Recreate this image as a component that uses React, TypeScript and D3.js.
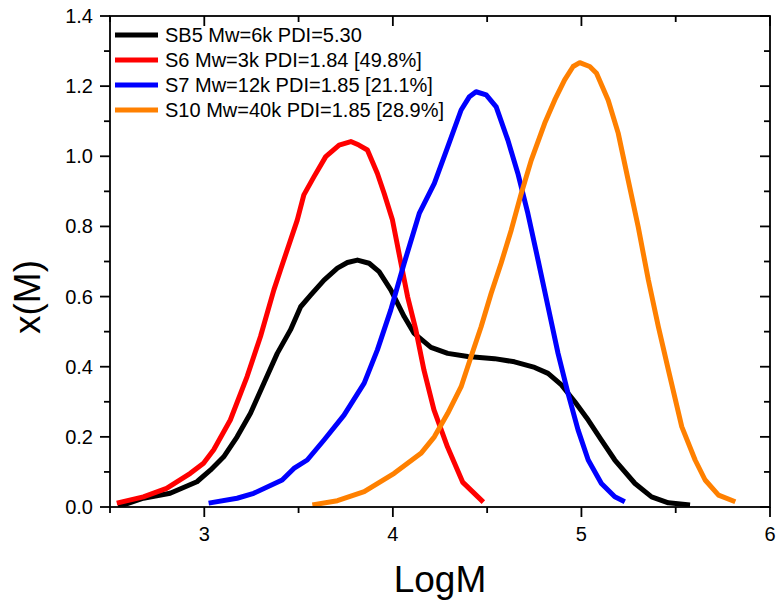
import React from "react";
import * as d3 from "d3";

const xTicksMajor = [3, 4, 5, 6];
const xTicksMinor = [2.5, 3.5, 4.5, 5.5];
const yTicksMajor = [0, 0.2, 0.4, 0.6, 0.8, 1.0, 1.2, 1.4];
const yTicksMinor = [0.1, 0.3, 0.5, 0.7, 0.9, 1.1, 1.3];

const seriesNames = [
  "SB5 Mw=6k PDI=5.30",
  "S6 Mw=3k PDI=1.84 [49.8%]",
  "S7 Mw=12k PDI=1.85 [21.1%]",
  "S10 Mw=40k PDI=1.85 [28.9%]",
];
const seriesColors = ["#000000", "#ff0000", "#0000ff", "#ff8000"];

const sb5X = [2.544, 2.677, 2.819, 2.961, 3.032, 3.103, 3.174, 3.245, 3.316, 3.387, 3.457, 3.511, 3.564, 3.635, 3.706, 3.759, 3.812, 3.874, 3.927, 3.989, 4.06, 4.113, 4.202, 4.291, 4.397, 4.539, 4.645, 4.752, 4.823, 4.894, 4.965, 5.036, 5.106, 5.177, 5.284, 5.372, 5.461, 5.576];
const sb5Y = [0.001, 0.025, 0.039, 0.072, 0.105, 0.143, 0.2, 0.267, 0.353, 0.438, 0.505, 0.571, 0.604, 0.647, 0.681, 0.697, 0.704, 0.695, 0.671, 0.619, 0.543, 0.495, 0.455, 0.438, 0.429, 0.423, 0.414, 0.398, 0.381, 0.348, 0.3, 0.248, 0.191, 0.134, 0.067, 0.029, 0.012, 0.006];

const s6X = [2.536, 2.677, 2.8, 2.926, 2.996, 3.05, 3.138, 3.227, 3.298, 3.369, 3.404, 3.493, 3.528, 3.582, 3.644, 3.715, 3.777, 3.82, 3.865, 3.918, 3.954, 3.998, 4.043, 4.078, 4.122, 4.165, 4.218, 4.29, 4.37, 4.48];
const s6Y = [0.011, 0.029, 0.053, 0.096, 0.125, 0.163, 0.248, 0.372, 0.486, 0.619, 0.676, 0.818, 0.89, 0.942, 0.999, 1.032, 1.042, 1.032, 1.018, 0.951, 0.894, 0.818, 0.695, 0.6, 0.505, 0.39, 0.277, 0.171, 0.071, 0.014];

const s7X = [3.023, 3.174, 3.262, 3.413, 3.475, 3.546, 3.635, 3.741, 3.848, 3.918, 3.989, 4.06, 4.14, 4.22, 4.291, 4.362, 4.406, 4.441, 4.495, 4.548, 4.61, 4.663, 4.716, 4.77, 4.823, 4.876, 4.929, 4.982, 5.036, 5.106, 5.177, 5.23];
const s7Y = [0.011, 0.025, 0.039, 0.077, 0.11, 0.134, 0.191, 0.262, 0.353, 0.448, 0.562, 0.695, 0.837, 0.923, 1.027, 1.132, 1.17, 1.184, 1.175, 1.141, 1.046, 0.951, 0.837, 0.704, 0.571, 0.438, 0.324, 0.22, 0.134, 0.067, 0.029, 0.015];

const s10X = [3.573, 3.706, 3.848, 4.007, 4.149, 4.22, 4.291, 4.362, 4.415, 4.468, 4.521, 4.574, 4.628, 4.681, 4.734, 4.805, 4.858, 4.911, 4.956, 4.991, 5.044, 5.08, 5.142, 5.195, 5.248, 5.301, 5.355, 5.408, 5.461, 5.532, 5.603, 5.656, 5.727, 5.816];
const s10Y = [0.006, 0.018, 0.044, 0.096, 0.153, 0.2, 0.267, 0.343, 0.429, 0.514, 0.609, 0.695, 0.79, 0.894, 0.989, 1.094, 1.16, 1.218, 1.256, 1.267, 1.256, 1.237, 1.16, 1.066, 0.932, 0.799, 0.647, 0.514, 0.391, 0.229, 0.134, 0.077, 0.034, 0.015];

const seriesX = [sb5X, s6X, s7X, s10X];
const seriesY = [sb5Y, s6Y, s7Y, s10Y];

const W = 777;
const H = 606;
const L = 110, R = 770, T = 16, B = 507;
const FONT = "Arial, 'Liberation Sans', sans-serif";

export default function App() {
  const x = d3.scaleLinear().domain([2.5, 6]).range([L, R]);
  const y = d3.scaleLinear().domain([0, 1.4]).range([B, T]);
  const line = d3
    .line<[number, number]>()
    .x((d) => x(d[0]))
    .y((d) => y(d[1]))
    .curve(d3.curveLinear);

  const majorLen = 10;
  const minorLen = 6;
  const axisW = 1.8;

  return (
    <svg
      width={W}
      height={H}
      style={{ position: "absolute", left: 0, top: 0, background: "#fff" }}
      fontFamily={FONT}
    >
      <rect x={0} y={0} width={W} height={H} fill="#fff" />
      <defs>
        <clipPath id="plotclip">
          <rect x={L} y={T} width={R - L} height={B - T} />
        </clipPath>
      </defs>
      <g clipPath="url(#plotclip)">
        {seriesX.map((xs, i) => (
          <path
            key={i}
            d={line(xs.map((v, j) => [v, seriesY[i][j]]) as [number, number][]) || ""}
            fill="none"
            stroke={seriesColors[i]}
            strokeWidth={5}
            strokeLinejoin="round"
          />
        ))}
      </g>
      <rect x={L} y={T} width={R - L} height={B - T} fill="none" stroke="#000" strokeWidth={axisW} />
      {xTicksMajor.map((t) => (
        <g key={"xm" + t}>
          <line x1={x(t)} x2={x(t)} y1={B} y2={B + majorLen} stroke="#000" strokeWidth={axisW} />
          <line x1={x(t)} x2={x(t)} y1={T} y2={T + majorLen} stroke="#000" strokeWidth={axisW} />
          <text x={x(t)} y={541} textAnchor="middle" fontSize={20} fill="#000">
            {d3.format("d")(t)}
          </text>
        </g>
      ))}
      {xTicksMinor.map((t) => (
        <g key={"xn" + t}>
          <line x1={x(t)} x2={x(t)} y1={B} y2={B + minorLen} stroke="#000" strokeWidth={axisW} />
          <line x1={x(t)} x2={x(t)} y1={T} y2={T + minorLen} stroke="#000" strokeWidth={axisW} />
        </g>
      ))}
      {yTicksMajor.map((t) => (
        <g key={"ym" + t}>
          <line x1={L - majorLen} x2={L} y1={y(t)} y2={y(t)} stroke="#000" strokeWidth={axisW} />
          <line x1={R - majorLen} x2={R} y1={y(t)} y2={y(t)} stroke="#000" strokeWidth={axisW} />
          <text x={93} y={y(t) + 7} textAnchor="end" fontSize={20} fill="#000">
            {d3.format(".1f")(t)}
          </text>
        </g>
      ))}
      {yTicksMinor.map((t) => (
        <g key={"yn" + t}>
          <line x1={L - minorLen} x2={L} y1={y(t)} y2={y(t)} stroke="#000" strokeWidth={axisW} />
          <line x1={R - minorLen} x2={R} y1={y(t)} y2={y(t)} stroke="#000" strokeWidth={axisW} />
        </g>
      ))}
      <text x={(L + R) / 2} y={592} textAnchor="middle" fontSize={37} fill="#000">
        LogM
      </text>
      <text
        transform={`translate(40, 297) rotate(-90)`}
        textAnchor="middle"
        fontSize={37}
        fill="#000"
      >
        x(M)
      </text>
      {seriesNames.map((n, i) => (
        <g key={"lg" + i}>
          <line x1={115} x2={158} y1={35 + i * 25} y2={35 + i * 25} stroke={seriesColors[i]} strokeWidth={5} />
          <text x={165} y={35 + i * 25 + 7} fontSize={20} fill="#000">
            {n}
          </text>
        </g>
      ))}
    </svg>
  );
}
